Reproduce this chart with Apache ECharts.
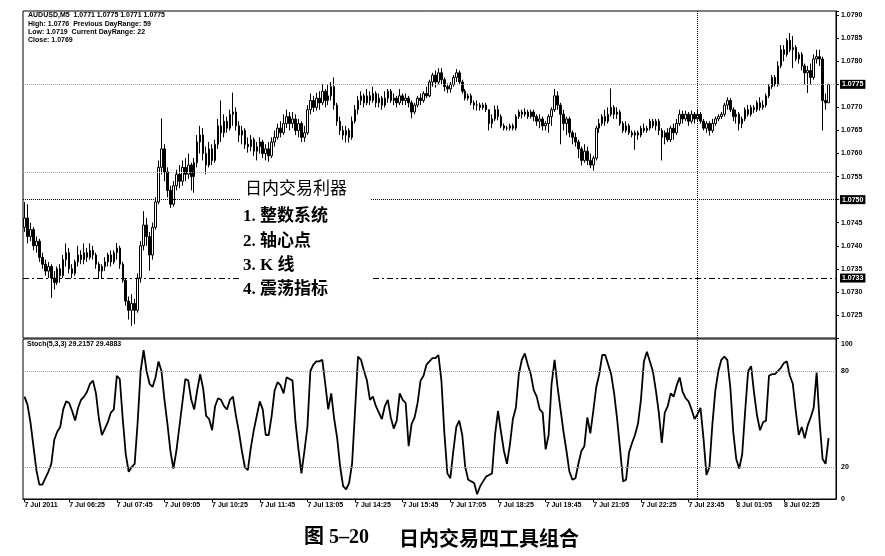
<!DOCTYPE html>
<html><head><meta charset="utf-8">
<script src="https://cdn.jsdelivr.net/npm/echarts@6/dist/echarts.min.js"></script>
<style>html,body{margin:0;padding:0;background:#fff}#c{width:885px;height:556px}</style>
</head><body><div id="c"></div>
<script>
// ---- data ----
// candles: [open, close, low, high]
const candles = [
[1.0744,1.0746,1.0743,1.07495],[1.0746,1.0742,1.07405,1.0749],[1.0742,1.07435,1.0741,1.0745],[1.07435,1.074,1.0739,1.0744],
[1.074,1.0741,1.07385,1.0742],[1.0741,1.07375,1.07365,1.07415],[1.07375,1.0736,1.0735,1.07385],[1.0736,1.07345,1.07335,1.0737],
[1.07345,1.07355,1.0733,1.07365],[1.07355,1.0733,1.07287,1.0736],[1.0733,1.0732,1.07305,1.07345],[1.0732,1.0735,1.07315,1.07355],
[1.0735,1.07335,1.0732,1.0736],[1.07335,1.0737,1.0733,1.0738],[1.0737,1.07385,1.07355,1.07405],[1.07385,1.0735,1.0734,1.07395],
[1.0735,1.0734,1.0733,1.0736],[1.0734,1.07365,1.07335,1.0737],[1.07365,1.0738,1.07355,1.074],[1.0738,1.0737,1.0736,1.0739],
[1.0737,1.07385,1.0736,1.07405],[1.07385,1.07375,1.07365,1.07395],[1.07375,1.0739,1.0737,1.07405],[1.0739,1.0738,1.0737,1.074],
[1.0738,1.0736,1.0735,1.07385],[1.0736,1.07345,1.0733,1.07365],[1.07345,1.07355,1.07328,1.0736],[1.07355,1.07365,1.07345,1.07375],
[1.07365,1.0738,1.07355,1.07385],[1.0738,1.07365,1.07355,1.0739],[1.07365,1.07385,1.0736,1.0739],[1.07385,1.07395,1.0737,1.07406],
[1.07395,1.0736,1.0735,1.074],[1.0736,1.07325,1.0732,1.07365],[1.07325,1.0728,1.0727,1.0733],[1.0728,1.0726,1.0724,1.0729],
[1.0726,1.07275,1.07226,1.07295],[1.07275,1.0726,1.0723,1.07285],[1.0726,1.0733,1.07255,1.0734],[1.0733,1.074,1.0732,1.0741],
[1.074,1.07445,1.0739,1.07475],[1.07445,1.0742,1.074,1.0746],[1.0742,1.0738,1.07346,1.0743],[1.0738,1.0744,1.0737,1.0745],
[1.0744,1.07495,1.07435,1.07505],[1.07495,1.0757,1.0749,1.07585],[1.0757,1.0761,1.07555,1.07676],[1.0761,1.0756,1.0754,1.0762],
[1.0756,1.0752,1.07505,1.0757],[1.0752,1.0749,1.07482,1.0753],[1.0749,1.0753,1.07485,1.0754],[1.0753,1.07555,1.0752,1.07565],
[1.07555,1.0754,1.07525,1.07575],[1.0754,1.0757,1.0753,1.07585],[1.0757,1.07555,1.0754,1.0759],[1.07555,1.07575,1.07545,1.076],
[1.07575,1.0755,1.0752,1.0758],[1.0755,1.0758,1.07515,1.0759],[1.0758,1.07625,1.0757,1.0764],[1.07625,1.0764,1.076,1.0766],
[1.0764,1.076,1.07585,1.07655],[1.076,1.07575,1.07555,1.07615],[1.07575,1.0761,1.0757,1.07625],[1.0761,1.07585,1.07575,1.0762],
[1.07585,1.0762,1.0758,1.0763],[1.0762,1.0766,1.0761,1.07675],[1.0766,1.07645,1.07625,1.07715],[1.07645,1.0767,1.07635,1.07685],
[1.0767,1.07655,1.07645,1.0768],[1.07655,1.07685,1.0765,1.07695],[1.07685,1.0769,1.0766,1.07732],[1.0769,1.0766,1.0765,1.077],
[1.0766,1.0764,1.07625,1.0767],[1.0764,1.0765,1.0762,1.0766],[1.0765,1.0762,1.0761,1.07655],[1.0762,1.07615,1.07602,1.07635],
[1.07615,1.0763,1.07605,1.0764],[1.0763,1.07605,1.07595,1.07635],[1.07605,1.07615,1.07585,1.07625],[1.07615,1.07625,1.076,1.07635],
[1.07625,1.076,1.0759,1.0763],[1.076,1.0761,1.07585,1.0762],[1.0761,1.07595,1.07582,1.07625],[1.07595,1.07625,1.0759,1.07635],
[1.07625,1.07635,1.07615,1.0765],[1.07635,1.07655,1.0763,1.07665],[1.07655,1.07645,1.07635,1.0767],[1.07645,1.07665,1.0764,1.07685],
[1.07665,1.0768,1.07655,1.07695],[1.0768,1.07665,1.0765,1.0769],[1.07665,1.07675,1.07655,1.0769],[1.07675,1.0765,1.0764,1.07685],
[1.0765,1.07665,1.07635,1.07675],[1.07665,1.07635,1.07625,1.0767],[1.07635,1.07645,1.07625,1.0766],[1.07645,1.07695,1.0764,1.07705],
[1.07695,1.07715,1.07685,1.0773],[1.07715,1.077,1.0769,1.07725],[1.077,1.0772,1.07693,1.07732],[1.0772,1.0771,1.07695,1.07735],
[1.0771,1.07735,1.07705,1.0775],[1.07735,1.07715,1.077,1.0774],[1.07715,1.07725,1.07705,1.0775],[1.07725,1.07745,1.07715,1.07755],
[1.07745,1.07705,1.07695,1.07765],[1.07705,1.0767,1.0766,1.0771],[1.0767,1.0765,1.0764,1.0768],[1.0765,1.0764,1.0763,1.0766],
[1.0764,1.0765,1.07624,1.0766],[1.0765,1.07635,1.07624,1.07655],[1.07635,1.0767,1.0763,1.0768],[1.0767,1.07695,1.07665,1.07705],
[1.07695,1.07715,1.07685,1.07725],[1.07715,1.07725,1.07705,1.07735],[1.07725,1.0771,1.077,1.0773],[1.0771,1.07725,1.07705,1.0774],
[1.07725,1.07715,1.07705,1.07735],[1.07715,1.0773,1.0771,1.07745],[1.0773,1.0771,1.077,1.07735],[1.0771,1.0772,1.077,1.0773],
[1.0772,1.07705,1.07695,1.07725],[1.07705,1.0772,1.077,1.07735],[1.0772,1.07735,1.0771,1.0774],[1.07735,1.07715,1.0771,1.0774],
[1.07715,1.0772,1.07705,1.0773],[1.0772,1.0771,1.077,1.07725],[1.0771,1.07725,1.07705,1.0774],[1.07725,1.07715,1.07705,1.0773],
[1.07715,1.0772,1.07705,1.0773],[1.0772,1.0771,1.077,1.07725],[1.0771,1.0769,1.07676,1.07715],[1.0769,1.07705,1.07685,1.0771],
[1.07705,1.0772,1.077,1.07725],[1.0772,1.07715,1.07705,1.0773],[1.07715,1.0773,1.0771,1.07735],[1.0773,1.07725,1.0772,1.07745],
[1.07725,1.07755,1.07722,1.0776],[1.07755,1.0777,1.07745,1.07775],[1.0777,1.07755,1.07743,1.0778],[1.07755,1.07775,1.0775,1.07785],
[1.07775,1.0776,1.0775,1.07785],[1.0776,1.07745,1.07735,1.07765],[1.07745,1.0774,1.07731,1.07752],[1.0774,1.0775,1.07732,1.07755],
[1.0775,1.07765,1.07745,1.0777],[1.07765,1.07775,1.07755,1.07783],[1.07775,1.07755,1.0775,1.0778],[1.07755,1.07735,1.0773,1.0776],
[1.07735,1.0772,1.07715,1.0774],[1.0772,1.07725,1.07715,1.0773],[1.07725,1.0771,1.07705,1.0773],[1.0771,1.07705,1.07695,1.07715],
[1.07705,1.07705,1.07693,1.07715],[1.07705,1.077,1.07693,1.0771],[1.077,1.07705,1.07695,1.0771],[1.07705,1.07695,1.0769,1.0771],
[1.07695,1.07665,1.0765,1.07695],[1.07665,1.07675,1.07655,1.07685],[1.07675,1.07695,1.0767,1.07704],[1.07695,1.0768,1.07672,1.07704],
[1.0768,1.0766,1.07655,1.07685],[1.0766,1.07655,1.0765,1.07665],[1.07655,1.07655,1.0765,1.0766],[1.07655,1.0766,1.0765,1.07665],
[1.0766,1.07655,1.0765,1.07665],[1.07655,1.0768,1.0765,1.07685],[1.0768,1.0769,1.07675,1.07695],[1.0769,1.07685,1.07676,1.07695],
[1.07685,1.0769,1.0768,1.07698],[1.0769,1.0768,1.07675,1.07695],[1.0768,1.0769,1.07676,1.07695],[1.0769,1.0768,1.0767,1.07695],
[1.0768,1.0767,1.0766,1.07685],[1.0767,1.07675,1.07655,1.07685],[1.07675,1.0766,1.0765,1.0768],[1.0766,1.07665,1.0765,1.0767],
[1.07665,1.0768,1.07645,1.07685],[1.0768,1.07695,1.0766,1.077],[1.07695,1.07725,1.0769,1.0774],[1.07725,1.07705,1.07695,1.07735],
[1.07705,1.07685,1.0762,1.0771],[1.07685,1.07665,1.0765,1.07695],[1.07665,1.07675,1.0764,1.0768],[1.07675,1.07645,1.07635,1.0768],
[1.07645,1.07635,1.0762,1.0765],[1.07635,1.07625,1.07615,1.07645],[1.07625,1.0761,1.0759,1.0763],[1.0761,1.07585,1.07574,1.07615],
[1.07585,1.07605,1.0758,1.0762],[1.07605,1.07585,1.07575,1.07615],[1.07585,1.07575,1.07568,1.076],[1.07575,1.0759,1.07563,1.07595],
[1.0759,1.07655,1.07585,1.0766],[1.07655,1.07665,1.07645,1.07675],[1.07665,1.0768,1.0766,1.07685],[1.0768,1.0767,1.0766,1.07695],
[1.0767,1.07685,1.07665,1.077],[1.07685,1.077,1.0768,1.07741],[1.077,1.07685,1.07675,1.07705],[1.07685,1.0769,1.07675,1.077],
[1.0769,1.07665,1.0766,1.07695],[1.07665,1.0765,1.07645,1.0767],[1.0765,1.0766,1.07645,1.0767],[1.0766,1.07645,1.0764,1.07665],
[1.07645,1.0764,1.07635,1.0765],[1.0764,1.07645,1.07608,1.0765],[1.07645,1.0764,1.0763,1.0765],[1.0764,1.07655,1.07635,1.0766],
[1.07655,1.0765,1.07645,1.07665],[1.0765,1.07655,1.07645,1.0766],[1.07655,1.0767,1.0765,1.07675],[1.0767,1.0766,1.07655,1.07675],
[1.0766,1.0767,1.0765,1.07675],[1.0767,1.0765,1.0764,1.07675],[1.0765,1.07635,1.07585,1.07655],[1.07635,1.07645,1.0762,1.0765],
[1.07645,1.0763,1.07625,1.07655],[1.0763,1.07655,1.07625,1.0766],[1.07655,1.07645,1.0763,1.07665],[1.07645,1.07665,1.0764,1.07675],
[1.07665,1.07685,1.0766,1.07695],[1.07685,1.07675,1.07665,1.07693],[1.07675,1.07685,1.0767,1.07693],[1.07685,1.0767,1.0766,1.0769],
[1.0767,1.07685,1.07665,1.07693],[1.07685,1.07675,1.07665,1.0769],[1.07675,1.07685,1.0767,1.07695],[1.07685,1.0767,1.07665,1.0769],
[1.0767,1.07655,1.0765,1.07675],[1.07655,1.07665,1.07645,1.0767],[1.07665,1.0765,1.07639,1.0767],[1.0765,1.07665,1.07645,1.07675],
[1.07665,1.07675,1.0766,1.0768],[1.07675,1.0768,1.0767,1.07685],[1.0768,1.07685,1.07675,1.0769],[1.07685,1.07705,1.0768,1.0771],
[1.07705,1.07715,1.07695,1.07722],[1.07715,1.07695,1.0769,1.0772],[1.07695,1.0768,1.0767,1.077],[1.0768,1.07685,1.07665,1.07695],
[1.07685,1.07665,1.0765,1.0769],[1.07665,1.07675,1.07655,1.0768],[1.07675,1.07695,1.0767,1.077],[1.07695,1.07685,1.0768,1.07705],
[1.07685,1.077,1.0768,1.07705],[1.077,1.07695,1.07688,1.07705],[1.07695,1.0771,1.0769,1.07715],[1.0771,1.077,1.07693,1.07722],
[1.077,1.07705,1.07695,1.07715],[1.07705,1.07725,1.077,1.0773],[1.07725,1.07745,1.0772,1.0775],[1.07745,1.07765,1.0774,1.0777],
[1.07765,1.0775,1.07745,1.0777],[1.0775,1.0779,1.07745,1.078],[1.0779,1.07825,1.07785,1.07835],[1.07825,1.07815,1.078,1.07835],
[1.07815,1.07845,1.0781,1.0785],[1.07845,1.07825,1.0782,1.07861],[1.07825,1.0783,1.07785,1.07855],[1.0783,1.07805,1.078,1.07835],
[1.07805,1.07815,1.07795,1.0782],[1.07815,1.0779,1.0778,1.0782],[1.0779,1.07775,1.0775,1.07795],[1.07775,1.0778,1.07731,1.0779],
[1.0778,1.07765,1.0775,1.07795],[1.07765,1.07805,1.0776,1.07815],[1.07805,1.0781,1.07795,1.07825],[1.0781,1.07805,1.0779,1.07825],
[1.07805,1.07715,1.0765,1.0781],[1.07715,1.0771,1.07695,1.0773],[1.0771,1.0775,1.0771,1.0775]
];
// Stochastic %K per bar
const stoch = [
64,59,48,33,18,9,9,13,17,22,37,42,45,56,61,60,55,49,57,62,
64,67,72,74,66,50,40,44,48,54,56,77,75,50,28,17,20,22,48,80,
93,80,72,70,76,86,80,62,47,30,19,30,45,60,75,74,62,56,68,78,
69,52,50,43,58,63,62,58,56,62,64,52,42,30,20,18,32,43,52,61,
56,40,40,52,68,73,71,66,76,75,74,48,31,16,30,45,80,84,86,86,
87,72,56,66,50,38,20,8,6,10,22,55,89,87,80,74,62,64,58,54,
50,58,62,51,44,49,66,62,60,33,47,51,60,74,77,84,86,88,88,90,
74,41,16,13,30,45,49,40,20,12,11,10,3,8,11,14,15,16,40,55,
42,30,22,34,50,57,78,87,91,84,78,68,64,56,54,31,40,72,87,70,
56,42,30,17,12,13,22,30,33,51,41,55,70,78,90,90,84,78,66,50,
31,11,12,29,35,40,47,62,86,92,86,80,68,54,35,54,58,66,64,71,
76,67,63,61,56,50,53,57,38,15,20,47,68,80,87,89,87,70,42,25,
19,28,55,80,83,66,52,43,48,49,77,78,78,80,82,85,86,77,72,55,
40,45,38,46,51,57,79,48,25,22,38
];
const timeTickIndex = [0,15,31,47,63,79,95,111,127,143,159,175,191,207,223,239,255];
const timeTickLabels = ['7 Jul 2011','7 Jul 06:25','7 Jul 07:45','7 Jul 09:05','7 Jul 10:25','7 Jul 11:45','7 Jul 13:05','7 Jul 14:25','7 Jul 15:45','7 Jul 17:05','7 Jul 18:25','7 Jul 19:45','7 Jul 21:05','7 Jul 22:25','7 Jul 23:45','8 Jul 01:05','8 Jul 02:25'];
const priceTickLabels = ['1.0725','1.0730','1.0735','1.0740','1.0745','1.0755','1.0760','1.0765','1.0770','1.0780','1.0785','1.0790'];
const stochTickLabels = [0,20,80,100];
const bidPrice = 1.0775;
const levelRound = 1.0756;
const levelPivot = 1.0750;
const levelK = 1.0733;
const separatorIndex = 226;
const headerLines = ['AUDUSD,M5  1.0771 1.0775 1.0771 1.0775','High: 1.0776  Previous DayRange: 59','Low: 1.0719  Current DayRange: 22','Close: 1.0769'];
const stochHeader = 'Stoch(5,3,3) 29.2157 29.4883';
const noteLines = ['日内交易利器','1. 整数系统','2. 轴心点','3. K 线','4. 震荡指标'];

// categories: 5-minute bars from 7 Jul 05:10 (+2 empty slots at right)
const categories = [];
for (let i = 0; i < candles.length + 2; i++) {
  const m = 5 * 60 + 10 + i * 5;
  const day = 7 + Math.floor(m / 1440), mm = m % 1440;
  categories.push(day + ' Jul ' + String(Math.floor(mm / 60)).padStart(2, '0') + ':' + String(mm % 60).padStart(2, '0'));
}
const tickSet = new Set(timeTickIndex);

const smallFont = {fontFamily: '"Liberation Sans", Arial, sans-serif', fontSize: 7, fontWeight: 'bold', color: '#000'};
const boxLabel = (txt) => ({show: true, position: 'end', formatter: txt, distance: 4,
  color: '#fff', backgroundColor: '#000', padding: [1, 2, 1, 2],
  fontFamily: smallFont.fontFamily, fontSize: 7, fontWeight: 'bold'});

const chart = echarts.init(document.getElementById('c'), null, {renderer: 'canvas'});
const G = [];
headerLines.forEach((t, k) => G.push({type: 'text', left: 28, top: 12 + k * 8.2,
  style: {text: t, font: 'bold 7px "Liberation Sans", Arial', fill: '#000'}}));
G.push({type: 'text', left: 27, top: 341, style: {text: stochHeader, font: 'bold 7px "Liberation Sans", Arial', fill: '#000'}});
G.push({type: 'rect', shape: {x: 240, y: 180, width: 131, height: 122}, style: {fill: '#fff'}, z: 50});
const noteY = [190, 216.5, 241.5, 265.5, 290];
noteLines.forEach((t, k) => G.push({type: 'text', z: 51, x: k === 0 ? 245 : 243, y: noteY[k],
  style: {text: t, fill: '#000', textVerticalAlign: 'middle',
    font: (k === 0 ? 'normal ' : 'bold ') + '17px "Liberation Serif", "Noto Sans CJK SC", serif'}}));
G.push({type: 'text', x: 304, y: 538, style: {text: '图 5–20', fill: '#000', textVerticalAlign: 'middle',
  font: 'bold 20px "Liberation Serif", "Noto Sans CJK SC", serif'}});
G.push({type: 'text', x: 399, y: 538, style: {text: '日内交易四工具组合', fill: '#000', textVerticalAlign: 'middle',
  font: 'bold 20px "Noto Sans CJK SC", sans-serif'}});

chart.setOption({
  animation: false,
  backgroundColor: '#fff',
  graphic: G,
  grid: [
    {left: 23, top: 11, width: 813, height: 327, show: true, borderColor: '#000', borderWidth: 1, backgroundColor: 'transparent'},
    {left: 23, top: 339, width: 813, height: 160, show: true, borderColor: '#000', borderWidth: 1, backgroundColor: 'transparent'}
  ],
  xAxis: [
    {type: 'category', gridIndex: 0, data: categories, boundaryGap: true, show: false},
    {type: 'category', gridIndex: 1, data: categories, boundaryGap: true,
      axisLine: {lineStyle: {color: '#000', width: 1}},
      axisTick: {show: true, alignWithLabel: true, length: 3, interval: (i) => tickSet.has(i), lineStyle: {color: '#000'}},
      axisLabel: Object.assign({}, smallFont, {interval: (i) => tickSet.has(i), align: 'left', margin: 3,
        formatter: (v, i) => { const k = timeTickIndex.indexOf(i); return k >= 0 ? timeTickLabels[k] : ''; }}),
      splitLine: {show: false}}
  ],
  yAxis: [
    {type: 'value', gridIndex: 0, position: 'right', min: 1.0720, max: 1.07909, interval: 0.0005,
      axisLine: {show: true, lineStyle: {color: '#000'}},
      axisTick: {show: true, length: 3, lineStyle: {color: '#000'}},
      splitLine: {show: false},
      axisLabel: Object.assign({}, smallFont, {margin: 5, showMinLabel: true, showMaxLabel: true,
        formatter: (v) => { const s = v.toFixed(4); return priceTickLabels.includes(s) ? s : ''; }})},
    {type: 'value', gridIndex: 1, position: 'right', min: 0, max: 100, interval: 20,
      axisLine: {show: true, lineStyle: {color: '#000'}},
      axisTick: {show: false},
      splitLine: {show: false},
      axisLabel: Object.assign({}, smallFont, {margin: 5,
        formatter: (v) => stochTickLabels.includes(v) ? (v === 100 ? '{t|100}' : String(v)) : '',
        rich: {t: {padding: [10, 0, 0, 0], fontSize: 7, fontWeight: 'bold', color: '#000', fontFamily: smallFont.fontFamily}}})}
  ],
  series: [
    {type: 'candlestick', xAxisIndex: 0, yAxisIndex: 0, data: candles, barWidth: 2,
      itemStyle: {color: '#fff', color0: '#000', borderColor: '#000', borderColor0: '#000', borderWidth: 1},
      markLine: {silent: true, symbol: 'none', animation: false, precision: 5,
        data: [
          {yAxis: bidPrice, lineStyle: {type: 'dotted', color: '#999', width: 1}, label: boxLabel(bidPrice.toFixed(4))},
          {yAxis: levelRound, lineStyle: {type: 'dotted', color: '#aaa', width: 1}, label: {show: false}},
          {yAxis: levelPivot, lineStyle: {type: 'dotted', color: '#000', width: 1}, label: boxLabel(levelPivot.toFixed(4))},
          {yAxis: levelK, lineStyle: {type: [6, 3, 2, 3], color: '#000', width: 1}, label: boxLabel(levelK.toFixed(4))},
          {xAxis: categories[separatorIndex], lineStyle: {type: 'dotted', color: '#000', width: 1}, label: {show: false}}
        ]}},
    {type: 'line', xAxisIndex: 1, yAxisIndex: 1, data: stoch, symbol: 'none', showSymbol: false,
      lineStyle: {color: '#000', width: 1.8},
      markLine: {silent: true, symbol: 'none', animation: false,
        data: [
          {yAxis: 80, lineStyle: {type: 'dotted', color: '#999', width: 1}, label: {show: false}},
          {yAxis: 20, lineStyle: {type: 'dotted', color: '#999', width: 1}, label: {show: false}},
          {xAxis: categories[separatorIndex], lineStyle: {type: 'dotted', color: '#000', width: 1}, label: {show: false}}
        ]}}
  ]
});
</script></body></html>
